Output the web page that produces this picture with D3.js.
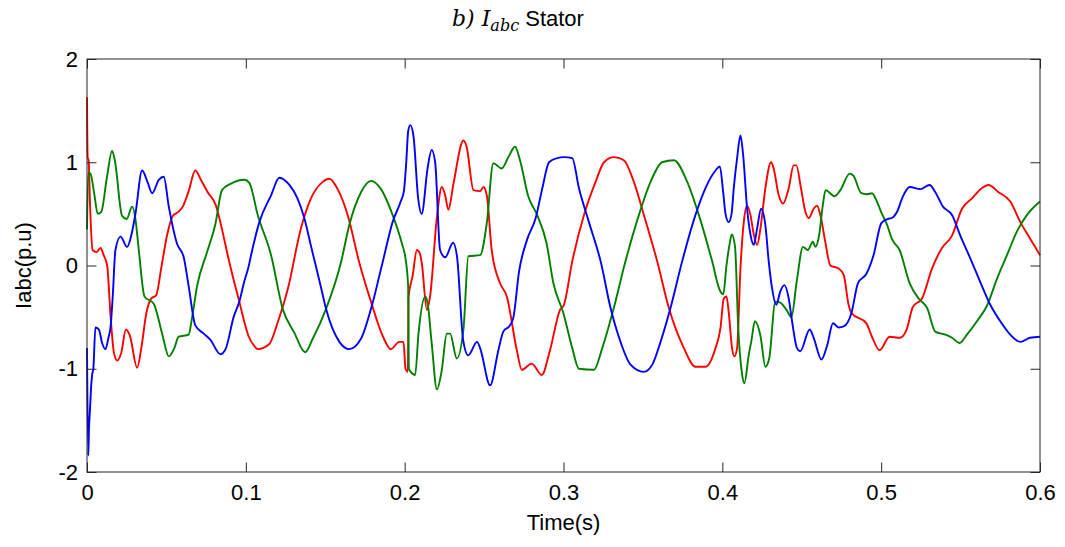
<!DOCTYPE html>
<html>
<head>
<meta charset="utf-8">
<title>Iabc Stator</title>
<script src="https://cdn.jsdelivr.net/npm/d3@7"></script>
<style>
  body { margin: 0; background: #fff; }
</style>
</head>
<body>
<div id="chart"></div>
<script>
// phase currents, [time (s), current (p.u)]
var phaseA = [
  [0, 1.63], [0.0004, 1.05], [0.001, 1.02], [0.002, 0.55], [0.0035, 0.15], [0.006, 0.13],
  [0.0085, 0.17], [0.0105, 0.1], [0.0127, 0.0], [0.0148, -0.48], [0.0169, -0.84], [0.019, -0.92],
  [0.0215, -0.85], [0.0245, -0.62], [0.027, -0.68], [0.0316, -0.99], [0.034, -0.82], [0.0375, -0.45],
  [0.0404, -0.32], [0.0435, -0.29], [0.047, 0.0], [0.0505, 0.3], [0.054, 0.48], [0.0575, 0.52],
  [0.0603, 0.57], [0.064, 0.72], [0.0682, 0.92], [0.072, 0.82], [0.076, 0.71], [0.0812, 0.58],
  [0.085, 0.35], [0.0886, 0.1], [0.0925, -0.15], [0.0959, -0.35], [0.0991, -0.55], [0.1016, -0.68],
  [0.1054, -0.78], [0.1075, -0.81], [0.1148, -0.76], [0.1201, -0.55], [0.1264, -0.23], [0.1347, 0.36],
  [0.141, 0.65], [0.1484, 0.81], [0.1526, 0.84], [0.1578, 0.74], [0.1641, 0.49], [0.1714, 0.03],
  [0.1788, -0.35], [0.1861, -0.68], [0.1913, -0.81], [0.1966, -0.74], [0.1993, -0.74], [0.2005, -1.0],
  [0.202, -1.03], [0.2025, -0.3], [0.205, -0.1], [0.2077, 0.15], [0.2095, 0.12], [0.2108, 0.02],
  [0.214, -0.43], [0.216, -0.3], [0.2203, 0.47], [0.2234, 0.76], [0.2255, 0.68], [0.2275, 0.54],
  [0.2307, 0.79], [0.237, 1.21], [0.239, 1.15], [0.2433, 0.73], [0.2475, 0.72], [0.2496, 0.76],
  [0.2517, 0.68], [0.2548, 0.15], [0.26, -0.17], [0.2643, -0.3], [0.2706, -0.82], [0.2737, -1.01],
  [0.28, -0.95], [0.2863, -1.06], [0.2915, -0.82], [0.2978, -0.43], [0.3003, -0.38], [0.3055, 0.04],
  [0.3129, 0.49], [0.3202, 0.81], [0.3255, 1.0], [0.3317, 1.05], [0.338, 1.02], [0.3443, 0.81],
  [0.3506, 0.49], [0.359, 0.04], [0.3663, -0.41], [0.3758, -0.8], [0.3831, -0.98], [0.3894, -0.98],
  [0.3957, -0.8], [0.3988, -0.61], [0.4009, -0.32], [0.4026, -0.3], [0.404, -0.45], [0.4061, -0.8],
  [0.4076, -0.88], [0.4093, -0.8], [0.4114, -0.03], [0.4135, 0.42], [0.4156, 0.58], [0.4177, 0.49],
  [0.4198, 0.3], [0.4219, 0.2], [0.424, 0.36], [0.4271, 0.75], [0.4307, 1.0], [0.4323, 0.94],
  [0.4355, 0.68], [0.4382, 0.6], [0.4418, 0.75], [0.4449, 0.97], [0.4466, 0.97], [0.4495, 0.75],
  [0.4523, 0.52], [0.4544, 0.46], [0.4575, 0.55], [0.4596, 0.58], [0.4617, 0.49], [0.4648, 0.23],
  [0.468, 0.0], [0.4732, -0.03], [0.4764, -0.09], [0.4795, -0.38], [0.4813, -0.46], [0.4907, -0.56],
  [0.4942, -0.69], [0.499, -0.82], [0.5053, -0.69], [0.5116, -0.7], [0.5158, -0.63], [0.52, -0.4],
  [0.5257, -0.32], [0.532, -0.03], [0.5383, 0.17], [0.5446, 0.29], [0.5509, 0.55], [0.5572, 0.65],
  [0.5635, 0.75], [0.5676, 0.78], [0.5739, 0.71], [0.5813, 0.62], [0.5876, 0.42], [0.5938, 0.26],
  [0.6, 0.1]
];

var phaseB = [
  [0, 0.35], [0.0008, 0.9], [0.0022, 0.89], [0.0045, 0.7], [0.0068, 0.5], [0.009, 0.52],
  [0.0125, 0.85], [0.0158, 1.11], [0.0175, 1.02], [0.0221, 0.48], [0.025, 0.45], [0.0284, 0.57],
  [0.0305, 0.45], [0.0326, 0.15], [0.0362, -0.3], [0.042, -0.37], [0.0473, -0.66], [0.0515, -0.88],
  [0.055, -0.8], [0.0577, -0.69], [0.064, -0.67], [0.0662, -0.5], [0.0693, -0.2], [0.0756, 0.13],
  [0.0808, 0.4], [0.085, 0.73], [0.0903, 0.79], [0.0991, 0.83], [0.1022, 0.8], [0.1075, 0.49],
  [0.1159, 0.1], [0.1232, -0.42], [0.1305, -0.65], [0.1373, -0.84], [0.1421, -0.71], [0.1505, -0.42],
  [0.1599, 0.03], [0.1651, 0.39], [0.1725, 0.71], [0.1788, 0.82], [0.1851, 0.74], [0.1924, 0.49],
  [0.1985, 0.2], [0.2003, 0.09], [0.2022, -0.2], [0.2026, -1.0], [0.2066, -1.06], [0.2087, -0.66],
  [0.213, -0.3], [0.2145, -0.37], [0.217, -0.75], [0.2203, -1.2], [0.2234, -1.01], [0.2265, -0.66],
  [0.2286, -0.66], [0.2328, -0.9], [0.237, -0.62], [0.2401, 0.09], [0.2475, 0.1], [0.2517, 0.41],
  [0.2558, 0.99], [0.2611, 0.94], [0.2653, 1.05], [0.2695, 1.15], [0.2726, 1.02], [0.2778, 0.67],
  [0.2831, 0.5], [0.2894, 0.21], [0.2936, -0.17], [0.2999, -0.46], [0.3055, -0.8], [0.3097, -1.0],
  [0.3192, -1.01], [0.3244, -0.8], [0.3317, -0.41], [0.339, 0.04], [0.3475, 0.49], [0.3548, 0.81],
  [0.3621, 1.0], [0.3695, 1.02], [0.3779, 0.81], [0.3852, 0.49], [0.3936, 0.04], [0.3984, -0.24],
  [0.4006, -0.28], [0.4026, 0.0], [0.4045, 0.2], [0.406, 0.3], [0.408, 0.18], [0.41, -0.6],
  [0.4124, -1.05], [0.4139, -1.14], [0.4166, -0.87], [0.4184, -0.72], [0.4205, -0.54], [0.424, -0.68],
  [0.4271, -0.98], [0.4295, -0.9], [0.4334, -0.35], [0.4365, -0.36], [0.4404, -0.43], [0.4435, -0.5],
  [0.4467, -0.17], [0.4508, 0.18], [0.4538, 0.15], [0.457, 0.23], [0.4586, 0.18], [0.461, 0.3],
  [0.4634, 0.6], [0.465, 0.73], [0.4708, 0.67], [0.4743, 0.73], [0.4802, 0.89], [0.4825, 0.87],
  [0.4875, 0.7], [0.491, 0.69], [0.4942, 0.7], [0.4973, 0.62], [0.5005, 0.5], [0.5033, 0.41],
  [0.507, 0.25], [0.5116, 0.15], [0.5179, -0.17], [0.5236, -0.32], [0.5289, -0.41], [0.5341, -0.64],
  [0.5404, -0.67], [0.5446, -0.7], [0.5494, -0.75], [0.554, -0.67], [0.5603, -0.54], [0.5666, -0.39],
  [0.5729, -0.13], [0.5792, 0.1], [0.5855, 0.33], [0.5918, 0.49], [0.6, 0.62]
];

var phaseC = [
  [0, -0.8], [0.0008, -1.84], [0.0012, -1.6], [0.0018, -1.42], [0.0025, -1.2], [0.0033, -1.05],
  [0.004, -1.0], [0.0053, -0.6], [0.0075, -0.62], [0.0095, -0.75], [0.0116, -0.81], [0.0135, -0.7],
  [0.0148, -0.6], [0.0162, -0.3], [0.0179, 0.15], [0.0211, 0.28], [0.0253, 0.18], [0.028, 0.3],
  [0.0305, 0.5], [0.0347, 0.92], [0.0383, 0.8], [0.041, 0.7], [0.0452, 0.83], [0.0483, 0.86],
  [0.0515, 0.57], [0.0567, 0.21], [0.0609, 0.08], [0.064, -0.2], [0.0682, -0.58], [0.0735, -0.66],
  [0.0777, -0.72], [0.084, -0.86], [0.0875, -0.8], [0.0923, -0.5], [0.0959, -0.35], [0.0991, -0.15],
  [0.1016, -0.02], [0.1033, 0.1], [0.1085, 0.42], [0.1159, 0.68], [0.1211, 0.85], [0.1274, 0.78],
  [0.1325, 0.65], [0.1368, 0.46], [0.141, 0.19], [0.1473, -0.21], [0.1505, -0.42], [0.1589, -0.74],
  [0.1651, -0.81], [0.1725, -0.71], [0.1788, -0.42], [0.1861, 0.03], [0.1924, 0.42], [0.1975, 0.62],
  [0.1995, 0.72], [0.201, 1.0], [0.2022, 1.3], [0.2035, 1.36], [0.2055, 1.26], [0.2085, 0.65],
  [0.2107, 0.5], [0.2145, 0.95], [0.217, 1.12], [0.2192, 1.0], [0.2223, 0.15], [0.2255, 0.08],
  [0.2305, 0.22], [0.233, 0.08], [0.2368, -0.72], [0.24, -0.87], [0.2456, -0.74], [0.2475, -0.8],
  [0.2538, -1.16], [0.259, -0.82], [0.2621, -0.64], [0.2663, -0.58], [0.2685, -0.5], [0.272, -0.06],
  [0.2773, 0.26], [0.2825, 0.46], [0.2867, 0.75], [0.2909, 1.0], [0.2961, 1.04], [0.3003, 1.05],
  [0.3055, 1.04], [0.3097, 0.75], [0.316, 0.42], [0.3234, 0.04], [0.3296, -0.41], [0.3359, -0.74],
  [0.3422, -0.96], [0.3506, -1.03], [0.3559, -0.96], [0.3611, -0.74], [0.3674, -0.41], [0.3747, 0.04],
  [0.3831, 0.49], [0.3894, 0.75], [0.3957, 0.92], [0.3984, 0.96], [0.4006, 0.7], [0.402, 0.5],
  [0.404, 0.42], [0.4058, 0.5], [0.4072, 0.75], [0.4093, 1.04], [0.4114, 1.26], [0.4131, 1.07],
  [0.4156, 0.55], [0.4177, 0.3], [0.4198, 0.2], [0.4219, 0.36], [0.4244, 0.55], [0.4271, 0.39],
  [0.4292, 0.04], [0.4313, -0.22], [0.434, -0.38], [0.4365, -0.25], [0.4391, -0.19], [0.4418, -0.32],
  [0.4439, -0.54], [0.447, -0.8], [0.4491, -0.83], [0.455, -0.62], [0.4575, -0.7], [0.4624, -0.91],
  [0.4659, -0.78], [0.4697, -0.56], [0.4732, -0.6], [0.4764, -0.59], [0.4813, -0.46], [0.4854, -0.17],
  [0.4907, -0.08], [0.4952, 0.1], [0.5001, 0.41], [0.504, 0.45], [0.5068, 0.46], [0.51, 0.52],
  [0.5137, 0.67], [0.518, 0.76], [0.5247, 0.74], [0.5305, 0.78], [0.5341, 0.71], [0.5389, 0.57],
  [0.5446, 0.49], [0.5498, 0.29], [0.5561, 0.07], [0.5624, -0.16], [0.5687, -0.38], [0.575, -0.54],
  [0.5813, -0.67], [0.5876, -0.74], [0.5938, -0.7], [0.6, -0.69]
];

var xTicks = [0, 0.1, 0.2, 0.3, 0.4, 0.5, 0.6];
var xTickLabels = ["0", "0.1", "0.2", "0.3", "0.4", "0.5", "0.6"];
var yTicks = [-2, -1, 0, 1, 2];
var yTickLabels = ["-2", "-1", "0", "1", "2"];

function init(){
    var w = 1065;
    var h = 547;

    var left = 87, right = 1040, top = 59, bottom = 472;

    var x = d3.scaleLinear()
              .domain([0, 0.6])
              .range([left, right]);

    var y = d3.scaleLinear()
              .domain([-2, 2])
              .range([bottom, top]);

    var svg = d3.select("#chart")
                .append("svg")
                .attr("width", w)
                .attr("height", h);

    var font = "'Liberation Sans', Arial, sans-serif";

    // title: b) I_abc Stator
    var title = svg.append("text")
                   .attr("x", 452)
                   .attr("y", 26)
                   .style("font-size", "22px")
                   .style("fill", "#000");
    title.append("tspan")
         .style("font-family", "'DejaVu Serif', serif")
         .style("font-style", "italic")
         .text("b) I");
    title.append("tspan")
         .attr("dy", 5)
         .style("font-family", "'DejaVu Serif', serif")
         .style("font-style", "italic")
         .style("font-size", "16px")
         .text("abc");
    title.append("tspan")
         .attr("dy", -5)
         .style("font-family", font)
         .text(" Stator");

    var line = d3.line()
                 .curve(d3.curveMonotoneX)
                 .x(function(d){ return x(d[0]); })
                 .y(function(d){ return y(d[1]); });

    var series = [
        {name: "a", data: phaseA, color: "#ff0000"},
        {name: "b", data: phaseB, color: "#008000"},
        {name: "c", data: phaseC, color: "#0000ff"}
    ];

    svg.selectAll("path.phase")
       .data(series)
       .enter()
       .append("path")
       .attr("class", "phase")
       .attr("d", function(d){ return line(d.data); })
       .attr("fill", "none")
       .attr("stroke", function(d){ return d.color; })
       .style("stroke-width", "1.9px")
       .style("stroke-linejoin", "round");

    var tickLen = 9.5;

    //bottom axis with labels
    var xAxis = d3.axisBottom(x)
                  .tickValues(xTicks)
                  .tickFormat(function(d, i){ return xTickLabels[i]; })
                  .tickSizeInner(-tickLen)
                  .tickSizeOuter(0)
                  .tickPadding(12);

    var gx = svg.append("g")
                .attr("transform", "translate(0," + bottom + ")")
                .call(xAxis);

    //top axis, ticks only
    var gxTop = svg.append("g")
                   .attr("transform", "translate(0," + top + ")")
                   .call(d3.axisTop(x).tickValues(xTicks).tickFormat("")
                           .tickSizeInner(-tickLen).tickSizeOuter(0));

    //left axis with labels
    var yAxis = d3.axisLeft(y)
                  .tickValues(yTicks)
                  .tickFormat(function(d, i){ return yTickLabels[i]; })
                  .tickSizeInner(-tickLen)
                  .tickSizeOuter(0)
                  .tickPadding(9);

    var gy = svg.append("g")
                .attr("transform", "translate(" + left + ",0)")
                .call(yAxis);

    //right axis, ticks only
    var gyRight = svg.append("g")
                     .attr("transform", "translate(" + right + ",0)")
                     .call(d3.axisRight(y).tickValues(yTicks).tickFormat("")
                             .tickSizeInner(-tickLen).tickSizeOuter(0));

    [gx, gxTop, gy, gyRight].forEach(function(g){
        g.select(".domain").remove();
        g.selectAll(".tick line")
         .attr("stroke", "#262626")
         .style("stroke-width", "1px");
        g.selectAll(".tick text")
         .style("font-size", "22px")
         .style("font-family", font)
         .style("fill", "#000");
    });

    // box
    svg.append("rect")
       .attr("x", left)
       .attr("y", top)
       .attr("width", right - left)
       .attr("height", bottom - top)
       .attr("fill", "none")
       .attr("stroke", "#262626")
       .style("stroke-width", "1px");

    // axis labels
    svg.append("text")
       .attr("x", (left + right) / 2)
       .attr("y", 530)
       .text("Time(s)")
       .style("text-anchor", "middle")
       .style("font-size", "22px")
       .style("font-family", font)
       .style("fill", "#000");

    svg.append("text")
       .attr("transform", "translate(31," + y(0) + ") rotate(-90)")
       .text("Iabc(p.u)")
       .style("text-anchor", "middle")
       .style("font-size", "22px")
       .style("font-family", font)
       .style("fill", "#000");
}

window.onload = init;
</script>
</body>
</html>
